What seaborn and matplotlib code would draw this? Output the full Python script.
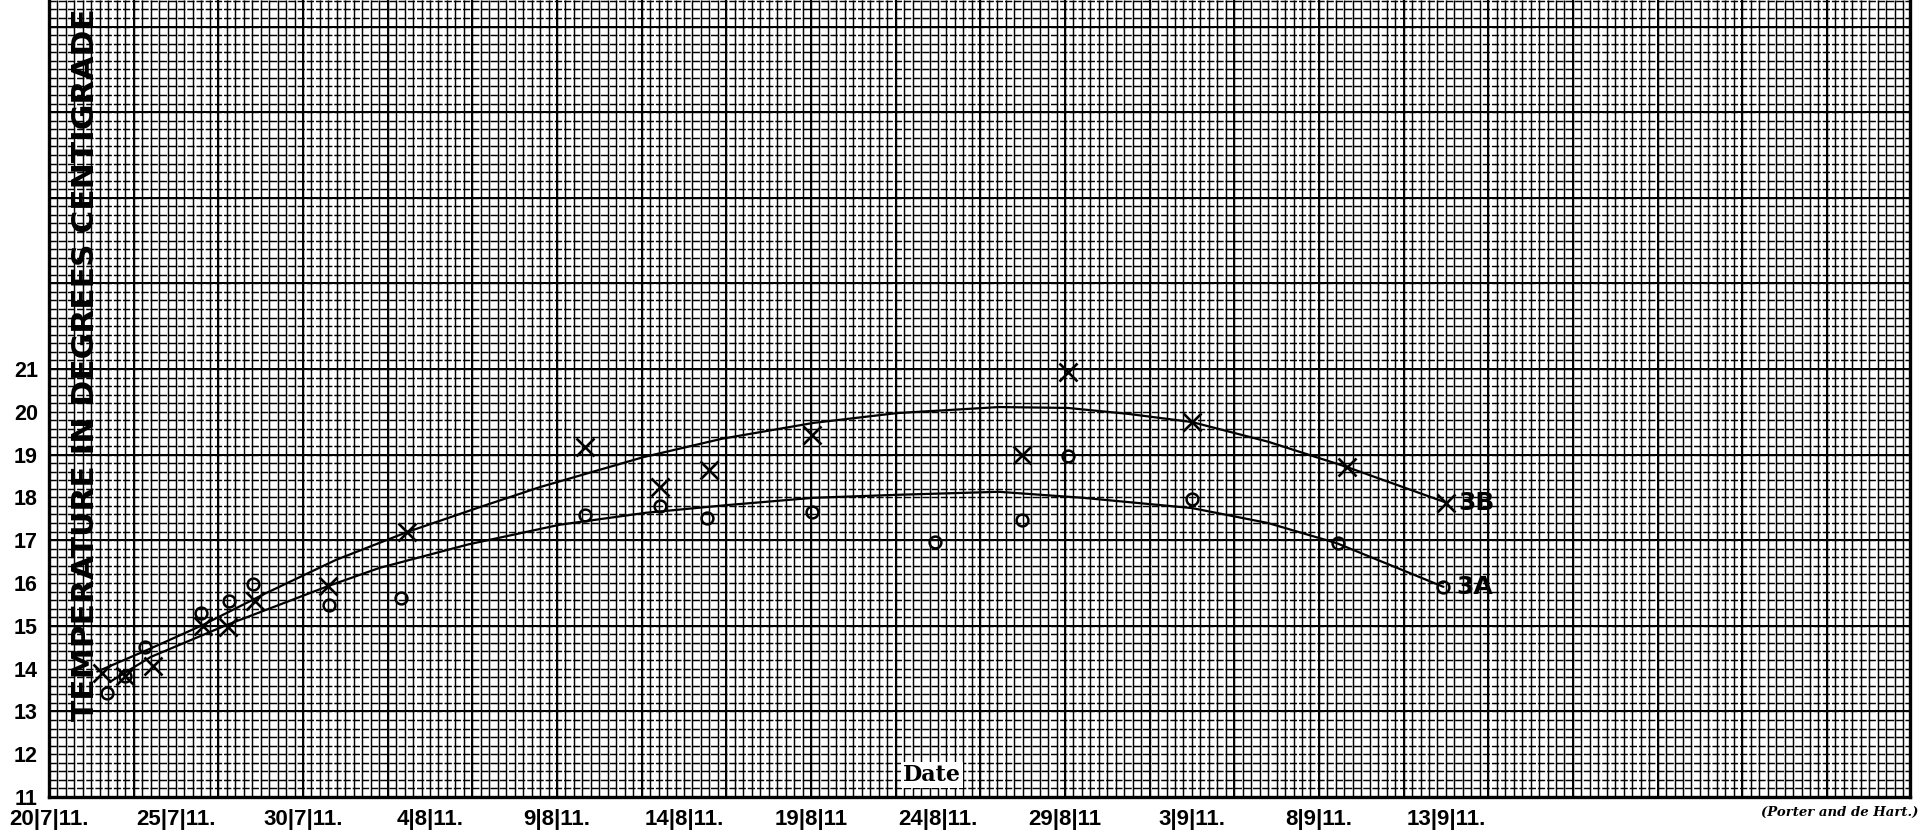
import numpy as np
import pandas as pd
import matplotlib
matplotlib.use("Agg")
import matplotlib.pyplot as plt
import seaborn as sns

# ---- data: days counted from 20 July 1911, temperatures in degrees C ----
days_3B = [2.1, 3.0, 4.1, 6.05, 7.05, 8.1, 11.0, 14.1, 21.1, 24.06, 26.0,
           30.04, 38.3, 40.1, 45.0, 51.1, 55.0]
temps_3B = [13.9, 13.82, 14.05, 15.0, 14.97, 15.58, 15.94, 17.18, 19.18, 18.24,
            18.64, 19.46, 18.98, 20.93, 19.75, 18.71, 17.88]

days_3A = [2.27, 3.0, 3.78, 6.0, 7.08, 8.02, 11.03, 13.86, 21.1, 24.06, 25.9,
           30.04, 34.9, 38.3, 40.1, 45.0, 50.75, 54.9]
temps_3A = [13.43, 13.82, 14.5, 15.3, 15.58, 15.98, 15.49, 15.66, 17.59, 17.8,
            17.52, 17.66, 16.96, 17.48, 18.97, 17.96, 16.93, 15.91]

# hand-drawn smooth curves through each series
curve_days_3B = [1.9, 4.0, 6.06, 8.5, 11.3, 14.1, 17.0, 19.33, 23.4, 26.5, 30.1,
                 33.4, 37.4, 40.1, 42.5, 45.0, 48.0, 51.1, 55.0]
curve_temps_3B = [13.93, 14.47, 15.02, 15.75, 16.54, 17.19, 17.78, 18.24, 18.94,
                  19.37, 19.74, 19.97, 20.11, 20.09, 19.95, 19.76, 19.3, 18.71, 17.88]

curve_days_3A = [2.4, 4.0, 7.0, 11.0, 13.0, 16.5, 20.1, 23.5, 26.7, 30.1, 33.4,
                 37.4, 40.7, 45.0, 48.0, 50.7, 54.9]
curve_temps_3A = [13.69, 14.27, 15.02, 15.93, 16.35, 16.9, 17.36, 17.64, 17.82,
                  17.99, 18.06, 18.13, 17.99, 17.75, 17.4, 16.93, 15.91]

date_ticks = [0, 5, 10, 15, 20, 25, 30, 35, 40, 45, 50, 55]
date_labels = ["20|7|11.", "25|7|11.", "30|7|11.", "4|8|11.", "9|8|11.",
               "14|8|11.", "19|8|11", "24|8|11.", "29|8|11", "3|9|11.",
               "8|9|11.", "13|9|11."]
temp_ticks = [11, 12, 13, 14, 15, 16, 17, 18, 19, 20, 21]
temp_labels = [str(t) for t in temp_ticks]

series_names = ["3B", "3A"]

W, H = 1923, 836
X_MAX, Y_MIN, Y_MAX = 73.27, 11.0, 29.62

sns.set_theme(style="white")
plt.rcParams["font.family"] = ["DejaVu Sans"]

fig = plt.figure(figsize=(W / 100, H / 100), dpi=100)
ax = fig.add_axes([49 / W, 1 - 797 / H, (1910 - 49) / W, 797 / H])
ax.set_xlim(0, X_MAX)
ax.set_ylim(Y_MIN, Y_MAX)
ax.set_facecolor("white")

# ---- graph-paper ruling ----
ink = "#000000"
minor_x = np.arange(0, X_MAX, 1 / 3)
minor_y = np.arange(Y_MIN, Y_MAX, 0.2)
major_x = np.arange(0, X_MAX, 10 / 3)
major_y = np.arange(Y_MIN, Y_MAX, 2.0)
ax.vlines(minor_x, Y_MIN, Y_MAX, color=ink, lw=1.05, zorder=0)
ax.hlines(minor_y, 0, X_MAX, color=ink, lw=1.05, linestyles=(0, (5, 1.3)), zorder=0)
ax.vlines(major_x, Y_MIN, Y_MAX, color=ink, lw=1.45, zorder=0)
ax.hlines(major_y, 0, X_MAX, color=ink, lw=1.45, zorder=0)

# ---- curves and observations ----
curves = pd.DataFrame({
    "day": curve_days_3B + curve_days_3A,
    "temp": curve_temps_3B + curve_temps_3A,
    "series": ["3B"] * len(curve_days_3B) + ["3A"] * len(curve_days_3A),
})
for name in series_names:
    sub = curves[curves["series"] == name]
    sns.lineplot(data=sub, x="day", y="temp", color="black", linewidth=1.6,
                 sort=False, estimator=None, ax=ax, zorder=3)

obs_B = pd.DataFrame({"day": days_3B, "temp": temps_3B})
obs_A = pd.DataFrame({"day": days_3A, "temp": temps_3A})
sns.lineplot(data=obs_B, x="day", y="temp", linestyle="", marker="x", ms=13,
             mew=1.9, mec="black", color="black", sort=False, estimator=None,
             ax=ax, zorder=4)
sns.lineplot(data=obs_A, x="day", y="temp", linestyle="", marker="o", ms=8.5,
             mew=1.8, mec="black", mfc="none", color="black", sort=False,
             estimator=None, ax=ax, zorder=4)

# series names at the ends of the curves
for name, dd, tt in [("3B", days_3B, temps_3B), ("3A", days_3A, temps_3A)]:
    ax.annotate(name, xy=(dd[-1], tt[-1]), xytext=(9, 0),
                textcoords="offset points", ha="left", va="center",
                fontsize=18, fontweight="bold", family="DejaVu Sans",
                color="black", zorder=5)

# ---- axes and labels ----
for side in ["left", "bottom", "right"]:
    ax.spines[side].set_visible(True)
    ax.spines[side].set_color("black")
    ax.spines[side].set_linewidth(2.4)
ax.spines["top"].set_visible(False)

ax.set_xticks(date_ticks)
ax.set_xticklabels(date_labels, fontsize=16, fontweight="bold",
                   family="Liberation Sans")
ax.set_yticks(temp_ticks)
ax.set_yticklabels(temp_labels, fontsize=15.5, fontweight="bold",
                   family="Liberation Sans")
ax.tick_params(axis="x", direction="in", length=7, width=2.5, color="black",
               pad=9, labelcolor="black")
ax.tick_params(axis="y", length=0, pad=8, labelcolor="black")
ax.set_xlabel("")
ax.set_ylabel("")

ylab = fig.text(86 / W, 1 - 364.5 / H, "TEMPERATURE IN DEGREES CENTIGRADE",
                rotation=90, ha="center", va="center", fontsize=16,
                fontweight="bold", family="DejaVu Sans", color="black", zorder=6)
fig.canvas.draw()
span = ylab.get_window_extent().height
ylab.set_fontsize(16 * 712 / span)

fig.text(932 / W, 1 - 775 / H, "Date", ha="center", va="center", fontsize=16,
         fontweight="bold", family="DejaVu Serif", color="black",
         bbox=dict(boxstyle="square,pad=0.08", fc="white", ec="none"), zorder=6)

fig.text(1918 / W, 1 - 812 / H, "(Porter and de Hart.)", ha="right",
         va="center", fontsize=9.5, fontstyle="italic", fontweight="bold",
         family="DejaVu Serif", color="black")

fig.savefig("out.png", dpi=100, facecolor="white")
